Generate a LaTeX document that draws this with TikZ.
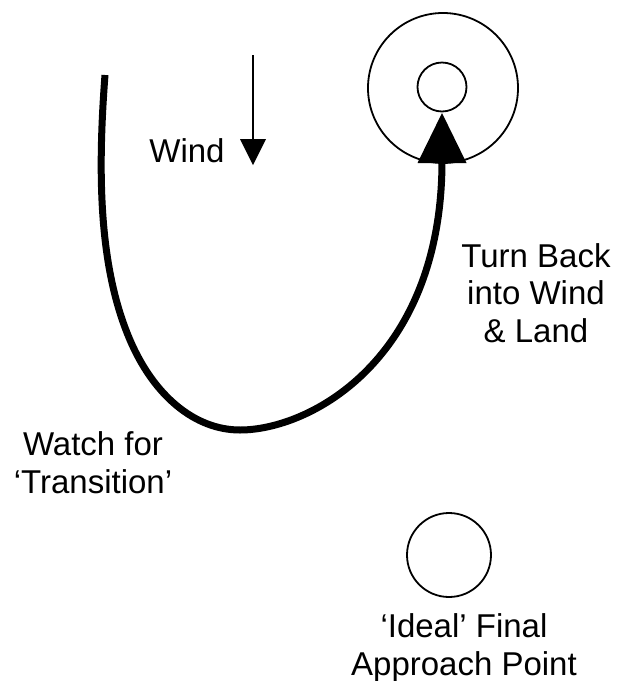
\documentclass[tikz,border=0pt]{standalone}
\usepackage{fontspec}
\setmainfont{Liberation Sans}
\begin{document}
\begin{tikzpicture}[x=1pt,y=-1pt,
  lbl/.style={font=\fontsize{33}{37.5}\selectfont, align=center, inner sep=0pt, anchor=base},
  ring/.style={draw, line width=1.8pt, circle, inner sep=0pt},
  track/.style={line width=7pt, line cap=butt},
  head/.style={fill=black, draw=none}]
\useasboundingbox (0,0) rectangle (618,681);
% target rings
\node[ring, minimum size=150pt] (outer) at (443,88) {};
\node[ring, minimum size=49pt] (inner) at (442,87) {};
% final approach point
\node[ring, minimum size=84pt] (fap) at (449,555) {};
% wind arrow
\coordinate (w0) at (253,55);
\coordinate (w1) at (253,142);
\draw[line width=2.4pt] (w0) -- (w1);
\fill (240,139) -- (266,139) -- (253,165) -- cycle;
\node[lbl] (wind) at (187,162) {Wind};
% track
\coordinate (t0) at (105,75);
\coordinate (t1) at (130,340);
\coordinate (t2) at (240,430);
\coordinate (tend) at (442,163);
\draw[track] (t0) .. controls (97,180) and (100,270) .. (t1)
  .. controls (154,396) and (195,430) .. (t2)
  .. controls (310,430) and (441,360) .. (tend);
\path[head] (442,113) -- (466.5,163) -- (417.5,163) -- cycle;
% labels
\node[lbl] (turn) at (536,342) {Turn Back\\into Wind\\\& Land};
\node[lbl] (watch) at (93,493) {Watch for\\‘Transition’};
\node[lbl] (ideal) at (464,675) {‘Ideal’ Final\\Approach Point};
\end{tikzpicture}
\end{document}
